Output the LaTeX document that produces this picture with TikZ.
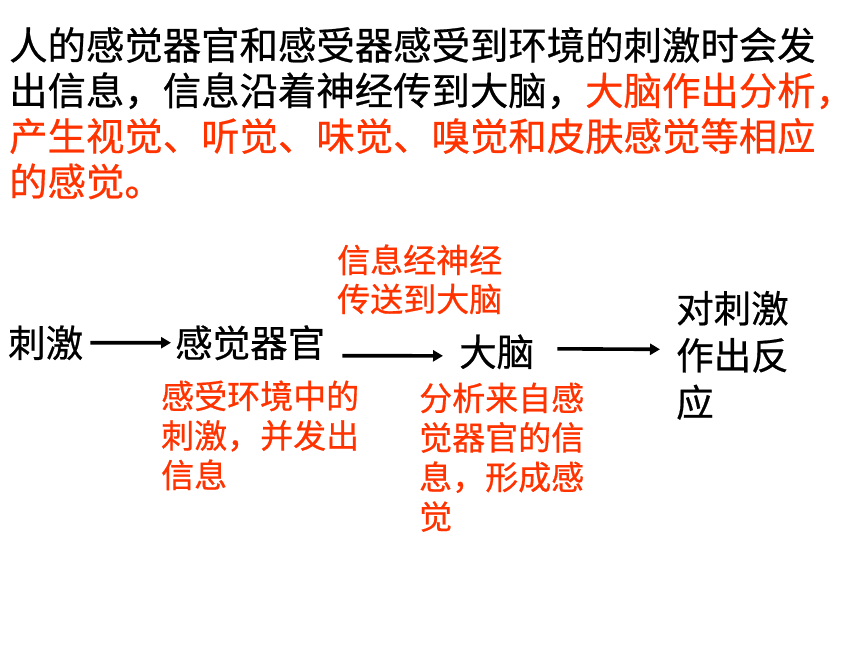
\documentclass[tikz,border=0pt]{standalone}
\usepackage{fontspec}
\setmainfont[FakeBold=0.6,AutoFakeBold=0.6]{Noto Sans CJK SC}
\usetikzlibrary{arrows.meta}
\definecolor{hred}{HTML}{FF3300}
\tikzset{
  txt/.style={inner sep=0pt, anchor=base west, font=\fontsize{38.4}{45}\selectfont\bfseries},
  dgm/.style={inner sep=0pt, anchor=base west, font=\fontsize{37.5}{45}\selectfont\bfseries},
  note/.style={inner sep=0pt, anchor=base west, text=hred, font=\fontsize{33}{39}\selectfont\bfseries},
  arr/.style={line width=3.6pt, -{Triangle[length=10pt,width=11pt]}}
}
\begin{document}
\begin{tikzpicture}[x=1pt,y=-1pt]
\useasboundingbox (0,0) rectangle (860,645);
% paragraph
\node[txt] (p1) at (9,59.6) {人的感觉器官和感受器感受到环境的刺激时会发};
\node[txt] (p2) at (9,105) {出信息，信息沿着神经传到大脑，\textcolor{hred}{大脑作出分析，}};
\node[txt,text=hred] (p3) at (9,150.6) {产生视觉、听觉、味觉、嗅觉和皮肤感觉等相应};
\node[txt,text=hred] (p4) at (9,196) {的感觉。};
% diagram
\node[dgm] (cj) at (8,357) {刺激};
\node[dgm] (gg) at (175,357) {感觉器官};
\node[dgm] (dn) at (459,366) {大脑};
\node[dgm] (fy1) at (676,322.5) {对刺激};
\node[dgm] (fy2) at (676,369.5) {作出反};
\node[dgm] (fy3) at (676,416.5) {应};
% notes
\node[note] (xx1) at (337,272.5) {信息经神经};
\node[note] (xx2) at (337,311.5) {传送到大脑};
\node[note] (gs1) at (161,408.5) {感受环境中的};
\node[note] (gs2) at (161,448) {刺激，并发出};
\node[note] (gs3) at (161,487.5) {信息};
\node[note] (fx1) at (419,410.5) {分析来自感};
\node[note] (fx2) at (419,450) {觉器官的信};
\node[note] (fx3) at (419,489.5) {息，形成感};
\node[note] (fx4) at (419,529) {觉};
% arrows
\draw[arr] ([xshift=7pt]cj.east) -- ([xshift=-4pt]gg.west);
\draw[arr] ([shift={(17,13)}]gg.east) -- ([shift={(-16,4)}]dn.west);
\draw[arr] ([shift={(23,-3)}]dn.east) -- ([shift={(-16,-6)}]fy2.west);
\end{tikzpicture}
\end{document}
